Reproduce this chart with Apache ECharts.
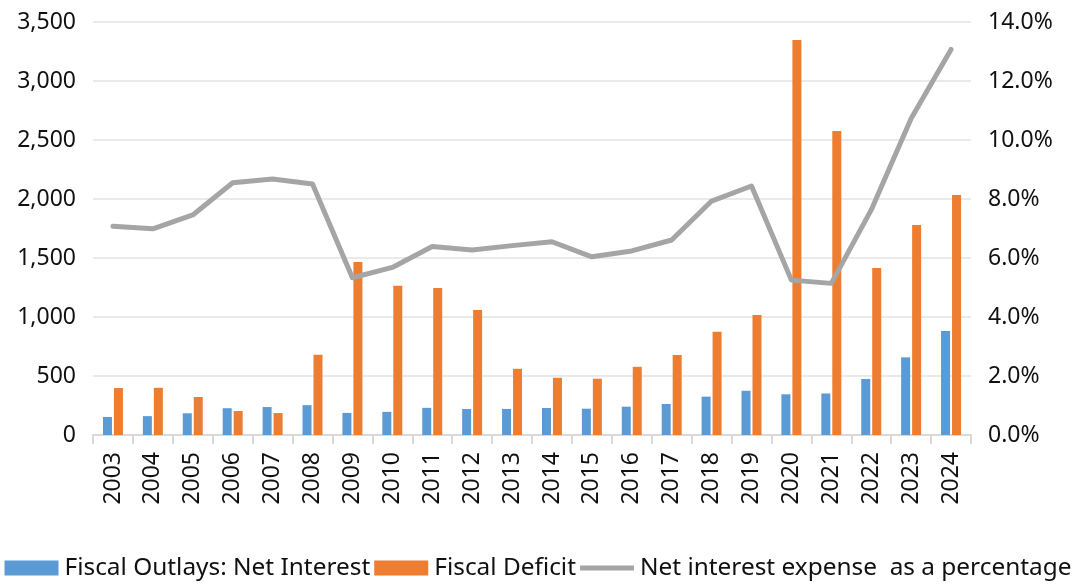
<!DOCTYPE html>
<html>
<head>
<meta charset="utf-8">
<script src="https://cdn.jsdelivr.net/npm/echarts@6/dist/echarts.min.js"></script>
<style>
  html, body { margin: 0; padding: 0; background: #fff; }
  #chart { width: 1076px; height: 585px; }
</style>
</head>
<body>
<div id="chart"></div>
<script>
// US federal fiscal data, billions of dollars (left) and percent (right)
const years = ['2003','2004','2005','2006','2007','2008','2009','2010','2011','2012','2013',
               '2014','2015','2016','2017','2018','2019','2020','2021','2022','2023','2024'];
const netInterest = [153, 160, 184, 227, 237, 253, 187, 196, 230, 220, 221,
                     229, 223, 240, 263, 325, 375, 345, 352, 475, 658, 881];
const fiscalDeficit = [398, 400, 322, 203, 186, 680, 1466, 1265, 1246, 1060, 561,
                       485, 477, 578, 678, 875, 1017, 3347, 2576, 1416, 1780, 2034];
const interestPct = [7.08, 6.99, 7.46, 8.55, 8.68, 8.51, 5.33, 5.68, 6.39, 6.27, 6.42,
                     6.55, 6.04, 6.24, 6.61, 7.93, 8.44, 5.25, 5.14, 7.63, 10.73, 13.07];
const leftTicks = { min: 0, max: 3500, interval: 500 };
const rightTicks = { min: 0, max: 14, interval: 2 };

const FONT = '"Noto Sans", "Open Sans", sans-serif';
const TEXT = '#111111';

const chart = echarts.init(document.getElementById('chart'), null, { renderer: 'canvas' });
chart.setOption({
  animation: false,
  backgroundColor: '#ffffff',
  textStyle: { fontFamily: FONT, color: TEXT },
  grid: { left: 93, right: 105, top: 22, bottom: 150, containLabel: false },
  legend: {
    top: 556,
    left: 'center',
    padding: 0,
    itemWidth: 54,
    itemHeight: 15,
    itemGap: 4,
    textStyle: { fontFamily: FONT, fontSize: 24.4, color: TEXT, padding: [0, 0, 0, 1] },
    data: [
      { name: 'Fiscal Outlays: Net Interest', icon: 'rect' },
      { name: 'Fiscal Deficit', icon: 'rect' },
      { name: 'Net interest expense  as a percentage', icon: 'path://M0,0 L54,0 L54,5 L0,5 Z' }
    ]
  },
  xAxis: {
    type: 'category',
    data: years,
    boundaryGap: true,
    axisLine: { lineStyle: { color: '#d9d9d9', width: 2 } },
    axisTick: { show: true, length: 9, lineStyle: { color: '#d9d9d9', width: 2 } },
    axisLabel: { rotate: 90, fontSize: 23, color: TEXT, margin: 17, fontFamily: FONT }
  },
  yAxis: [
    {
      type: 'value',
      min: leftTicks.min, max: leftTicks.max, interval: leftTicks.interval,
      axisLine: { show: false },
      axisTick: { show: false },
      splitLine: { lineStyle: { color: '#e3e3e3', width: 1.5 } },
      axisLabel: {
        fontSize: 23, color: TEXT, margin: 17, fontFamily: FONT,
        formatter: v => v.toLocaleString('en-US')
      }
    },
    {
      type: 'value',
      min: rightTicks.min, max: rightTicks.max, interval: rightTicks.interval,
      axisLine: { show: false },
      axisTick: { show: false },
      splitLine: { show: false },
      axisLabel: {
        fontSize: 23, color: TEXT, margin: 17, fontFamily: FONT,
        formatter: v => v.toFixed(1) + '%'
      }
    }
  ],
  series: [
    {
      name: 'Fiscal Outlays: Net Interest',
      type: 'bar',
      data: netInterest,
      barWidth: 9,
      barGap: '22%',
      itemStyle: { color: '#5b9bd5' }
    },
    {
      name: 'Fiscal Deficit',
      type: 'bar',
      data: fiscalDeficit,
      barWidth: 9,
      barGap: '22%',
      itemStyle: { color: '#ed7d31' }
    },
    {
      name: 'Net interest expense  as a percentage',
      type: 'line',
      yAxisIndex: 1,
      data: interestPct,
      symbol: 'none',
      z: 5,
      itemStyle: { color: '#a5a5a5' },
      lineStyle: { color: '#a5a5a5', width: 5, cap: 'round', join: 'round' }
    }
  ]
});
</script>
</body>
</html>
